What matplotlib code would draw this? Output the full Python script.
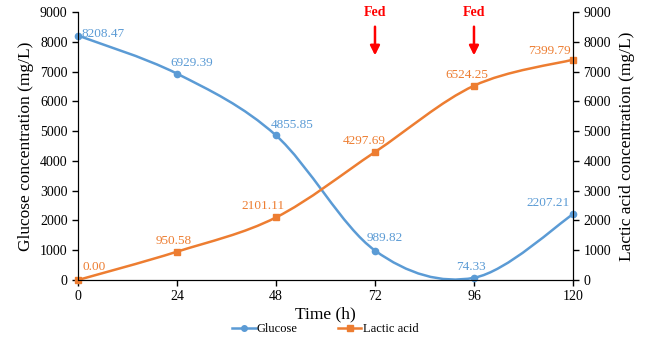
import matplotlib
matplotlib.use('Agg')
import matplotlib.pyplot as plt
from matplotlib.path import Path
from matplotlib.patches import PathPatch
from matplotlib.lines import Line2D

plt.rcParams['font.family'] = ['Liberation Serif', 'DejaVu Serif']

# data
time_h = [0, 24, 48, 72, 96, 120]
glucose = [8208.47, 6929.39, 4855.85, 989.82, 74.33, 2207.21]
lactic = [0.00, 950.58, 2101.11, 4297.69, 6524.25, 7399.79]
fed_times = [72, 96]

blue = '#5B9BD5'
orange = '#ED7D31'


def smooth_path(xs, ys):
    # Excel-style smoothed line: cubic Bezier through the points
    pts = list(zip(xs, ys))
    verts = [pts[0]]
    codes = [Path.MOVETO]
    n = len(pts)
    for i in range(n - 1):
        p0 = pts[i - 1] if i > 0 else pts[i]
        p1 = pts[i]
        p2 = pts[i + 1]
        p3 = pts[i + 2] if i + 2 < n else pts[i + 1]
        c1 = (p1[0] + (p2[0] - p0[0]) / 6, p1[1] + (p2[1] - p0[1]) / 6)
        c2 = (p2[0] - (p3[0] - p1[0]) / 6, p2[1] - (p3[1] - p1[1]) / 6)
        verts += [c1, c2, p2]
        codes += [Path.CURVE4] * 3
    return Path(verts, codes)


fig = plt.figure(figsize=(6.5, 3.43), dpi=100)
ax = fig.add_axes([0.12, 0.1837, 0.7615, 0.7813])
ax2 = ax.twinx()

for xs, ys, c, m in [(time_h, glucose, blue, 'o'), (time_h, lactic, orange, 's')]:
    ax.add_patch(PathPatch(smooth_path(xs, ys), facecolor='none', edgecolor=c, lw=1.8, zorder=3))
    ax.plot(xs, ys, ls='none', marker=m, ms=4.5, color=c, zorder=4, clip_on=False)

# data labels: offsets of label centre from the point, in pixels
px = 0.72
g_off = [(25, 2), (15, 11), (16, 10), (10, 13), (-3, 11), (-25, 11)]
l_off = [(16, 13), (-3, 11), (-13, 11), (-11, 11), (-7, 11), (-24, 9)]
for x, y, (dx, dy) in zip(time_h, glucose, g_off):
    ax.annotate(f'{y:.2f}', (x, y), xytext=(dx * px, dy * px), textcoords='offset points',
                ha='center', va='center', color=blue, fontsize=9.5, zorder=5)
for x, y, (dx, dy) in zip(time_h, lactic, l_off):
    ax.annotate(f'{y:.2f}', (x, y), xytext=(dx * px, dy * px), textcoords='offset points',
                ha='center', va='center', color=orange, fontsize=9.5, zorder=5)

# Fed arrows
for t in fed_times:
    ax.annotate('', xy=(t, 7450), xytext=(t, 8600),
                arrowprops=dict(arrowstyle='-|>', color='#FF0000', lw=1.8, mutation_scale=14),
                annotation_clip=False)
    ax.text(t, 8750, 'Fed', color='#FF0000', fontweight='bold', fontsize=10,
            ha='center', va='bottom', clip_on=False)

ax.set_xlim(0, 120)
ax.set_ylim(0, 9000)
ax2.set_ylim(0, 9000)
ax.set_xticks(time_h)
ax.set_yticks(range(0, 9001, 1000))
ax2.set_yticks(range(0, 9001, 1000))
for a in (ax, ax2):
    a.tick_params(labelsize=10, length=4, width=1)
    a.spines['top'].set_visible(False)
ax.set_xlabel('Time (h)', fontsize=12.5, labelpad=2)
ax.set_ylabel('Glucose concentration (mg/L)', fontsize=12.5, labelpad=4)
ax2.set_ylabel('Lactic acid concentration (mg/L)', fontsize=12.5, labelpad=6)

handles = [Line2D([], [], color=blue, marker='o', ms=4, lw=1.8),
           Line2D([], [], color=orange, marker='s', ms=4, lw=1.8)]
fig.legend(handles, ['Glucose', 'Lactic acid'], loc='lower center', bbox_to_anchor=(0.5, -0.01),
           ncol=2, frameon=False, fontsize=9, columnspacing=3.2, handlelength=1.9, handletextpad=0.1)

fig.savefig('out.png', dpi=100)
